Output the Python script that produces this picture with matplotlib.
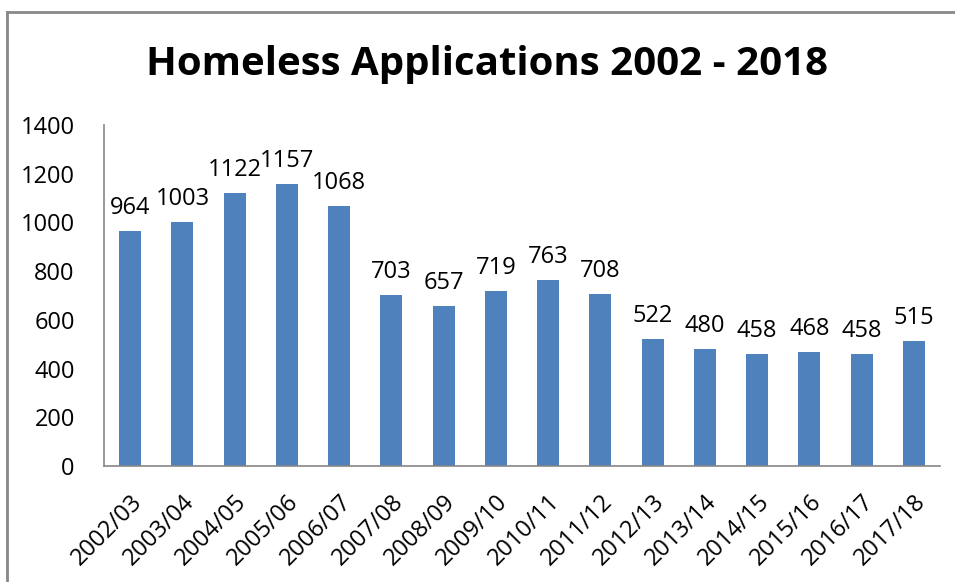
import matplotlib
matplotlib.use("Agg")
import matplotlib.pyplot as plt
from matplotlib.lines import Line2D

years = ["2002/03", "2003/04", "2004/05", "2005/06", "2006/07", "2007/08",
         "2008/09", "2009/10", "2010/11", "2011/12", "2012/13", "2013/14",
         "2014/15", "2015/16", "2016/17", "2017/18"]
applications = [964, 1003, 1122, 1157, 1068, 703, 657, 719, 763, 708,
                522, 480, 458, 468, 458, 515]
yticks = [0, 200, 400, 600, 800, 1000, 1200, 1400]

plt.rcParams["font.family"] = ["Open Sans", "DejaVu Sans"]

W, H = 955, 582
fig = plt.figure(figsize=(W / 100, H / 100), dpi=100)
ax = fig.add_axes([104 / W, 1 - 466 / H, (940 - 104) / W, (466 - 125) / H])

x = range(len(years))
ax.bar(x, applications, width=0.42, color="#4f81bd")
for i, v in enumerate(applications):
    ax.text(i, v + 45, str(v), ha="center", va="bottom", fontsize=17)

ax.set_xlim(-0.5, len(years) - 0.5)
ax.set_ylim(0, 1400)
ax.set_yticks(yticks)
ax.tick_params(axis="y", length=0, labelsize=17, pad=21)
ax.set_xticks(list(x))
ax.set_xticklabels(years, rotation=45, ha="right", rotation_mode="anchor",
                   fontsize=17)
ax.tick_params(axis="x", length=0, pad=17)
for s in ["top", "right"]:
    ax.spines[s].set_visible(False)
for s in ["left", "bottom"]:
    ax.spines[s].set_color("#868686")
    ax.spines[s].set_linewidth(1.2)

fig.text(487 / W, 1 - 65 / H, "Homeless Applications 2002 - 2018",
         ha="center", va="center", fontsize=29, fontweight="bold")

# outer chart frame (partly cut off at right/bottom)
fig.add_artist(Line2D([7 / W, 7 / W], [1 - 12 / H, 0], transform=fig.transFigure,
                      color="#888888", linewidth=2))
fig.add_artist(Line2D([7 / W, 1], [1 - 12 / H, 1 - 12 / H], transform=fig.transFigure,
                      color="#888888", linewidth=2))

fig.savefig("out.png", dpi=100)
